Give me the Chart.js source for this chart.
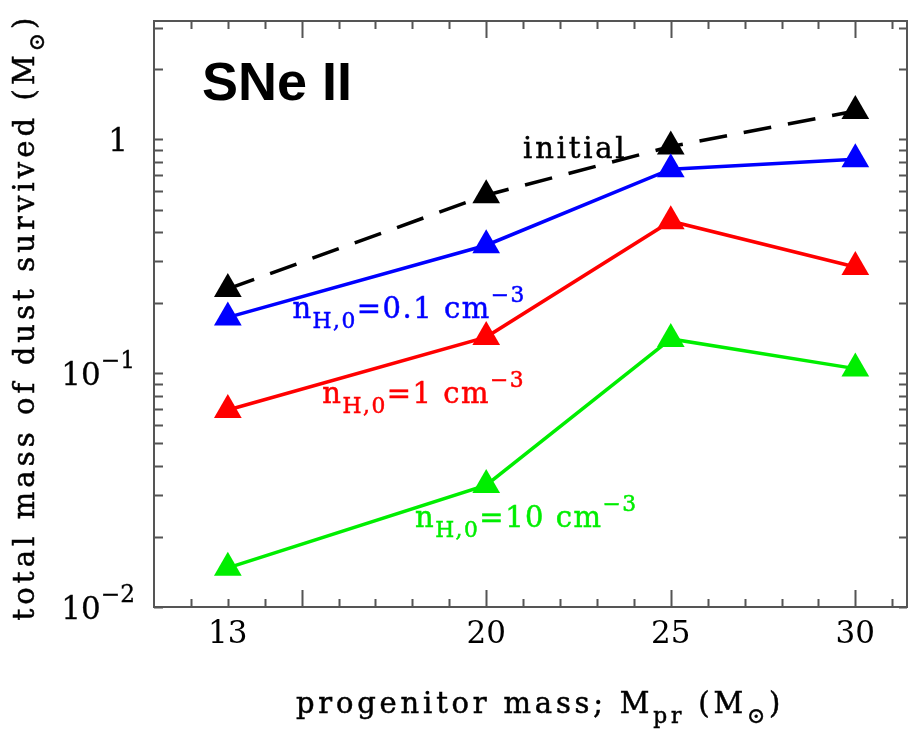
<!DOCTYPE html>
<html>
<head>
<meta charset="utf-8">
<script src="https://cdn.jsdelivr.net/npm/chart.js@4.4.1/dist/chart.umd.min.js"></script>
<style>
html,body{margin:0;padding:0;background:#fff}
#wrap{width:923px;height:742px}
</style>
</head>
<body>
<div id="wrap"><canvas id="c"></canvas></div>
<script>
// progenitor masses (Msun)
const masses = [13, 20, 25, 30];
// total dust mass (Msun)
const initialDust = [0.229, 0.576, 0.93, 1.32];
const dustN01 = [0.173, 0.352, 0.744, 0.82];
const dustN1 = [0.0695, 0.1425, 0.446, 0.284];
const dustN10 = [0.0147, 0.0332, 0.140, 0.1045];
const xTickLabels = [13, 20, 25, 30];
const yTickLabels = [
  {v:1, base:'1', exp:''},
  {v:0.1, base:'10', exp:'−1'},
  {v:0.01, base:'10', exp:'−2'}
];

const SERIF = '"DejaVu Serif"';
const pts = arr => masses.map((m,i)=>({x:m, y:arr[i]}));

// draws text with sub/superscripts, baseline at y
function rich(ctx, x, y, parts, F, color, align, spacing, stroke){
  ctx.save();
  ctx.fillStyle = color;
  ctx.strokeStyle = color;
  ctx.lineWidth = stroke || 0;
  ctx.textBaseline = 'alphabetic';
  ctx.textAlign = 'left';
  ctx.letterSpacing = (spacing||0)+'px';
  const seg = parts.map(p=>{
    const f = p.s ? F*0.75 : F;
    ctx.font = f+'px '+SERIF;
    return {t:p.t, s:p.s, f, w:ctx.measureText(p.t).width};
  });
  const total = seg.reduce((s,p)=>s+p.w,0);
  let cx = align==='right' ? x-total : align==='center' ? x-total/2 : x;
  seg.forEach(p=>{
    ctx.font = p.f+'px '+SERIF;
    const dy = p.s==='sub' ? 0.35*F : p.s==='sup' ? -0.55*F : 0;
    ctx.fillText(p.t, cx, y+dy);
    if(stroke) ctx.strokeText(p.t, cx, y+dy);
    cx += p.w;
  });
  ctx.restore();
}

const nLabel = (val) => [{t:'n'},{t:'H,0',s:'sub'},{t:'='+val+' cm'},{t:'−3',s:'sup'}];
const notes = [
  {x:21.0, y:0.83, parts:[{t:'initial'}], color:'#000', sp:2.8},
  {x:14.75, y:0.172, parts:nLabel('0.1'), color:'#0000ff', sp:1.5},
  {x:15.56, y:0.0744, parts:nLabel('1'), color:'#ff0000', sp:1.5},
  {x:18.07, y:0.022, parts:nLabel('10'), color:'#00ee00', sp:1.5}
];

const framePlugin = {
  id:'framePlugin',
  afterDraw(chart){
    const {ctx, chartArea:a, scales:{x, y}} = chart;
    ctx.save();
    ctx.strokeStyle = '#555';
    ctx.lineWidth = 2;
    ctx.strokeRect(a.left, a.top, a.right-a.left, a.bottom-a.top);
    ctx.beginPath();
    for(let v=12; v<=31; v++){
      const px = Math.round(x.getPixelForValue(v))+0.5;
      const len = v%5===0 ? 17 : 8;
      ctx.moveTo(px, a.bottom); ctx.lineTo(px, a.bottom-len);
      ctx.moveTo(px, a.top); ctx.lineTo(px, a.top+len);
    }
    for(let d=-2; d<=0; d++){
      for(let k=1; k<=9; k++){
        const v = k*Math.pow(10,d);
        if(v>y.max) break;
        const py = Math.round(y.getPixelForValue(v))+0.5;
        ctx.moveTo(a.left, py); ctx.lineTo(a.left+9, py);
        ctx.moveTo(a.right, py); ctx.lineTo(a.right-8, py);
      }
    }
    ctx.stroke();
    ctx.restore();

    // y tick labels
    yTickLabels.forEach(t=>{
      const py = y.getPixelForValue(t.v);
      if(t.exp){
        rich(ctx, a.left-19, py+12, [{t:t.base},{t:t.exp,s:'sup'}], 31, '#000', 'right', 0, 0.3);
      } else {
        rich(ctx, a.left-26, py+12, [{t:t.base}], 31, '#000', 'right', 0, 0.3);
      }
    });

    // axis titles
    rich(ctx, 540, 713, [{t:'progenitor mass; M'},{t:'pr',s:'sub'},{t:' (M'},{t:'⊙',s:'sub'},{t:')'}], 29, '#000', 'center', 3.8, 0.5);
    ctx.save();
    ctx.translate(34, 317);
    ctx.rotate(-Math.PI/2);
    rich(ctx, 0, 0, [{t:'total mass of dust survived (M'},{t:'⊙',s:'sub'},{t:')'}], 29, '#000', 'center', 4.1, 0.5);
    ctx.restore();

    // panel label
    ctx.save();
    ctx.font = 'bold 54px "Liberation Sans"';
    ctx.fillStyle = '#000';
    ctx.textBaseline = 'alphabetic';
    ctx.fillText('SNe II', 202, 100);
    ctx.restore();

    // line labels
    notes.forEach(n=>{
      rich(ctx, x.getPixelForValue(n.x), y.getPixelForValue(n.y), n.parts, 29, n.color, 'left', n.sp, 0.5);
    });
  }
};

const lineSet = (data, color, dash) => ({
  data: pts(data),
  borderColor: color,
  backgroundColor: color,
  borderWidth: 3.5,
  borderDash: dash || [],
  pointStyle: 'triangle',
  pointRadius: 16,
  pointBorderWidth: 0,
  pointBackgroundColor: color,
  tension: 0,
  fill: false
});

new Chart(document.getElementById('c'), {
  type: 'line',
  data: {
    datasets: [
      lineSet(dustN01, '#0000ff'),
      lineSet(dustN1, '#ff0000'),
      lineSet(dustN10, '#00ee00'),
      lineSet(initialDust, '#000000', [28, 17])
    ]
  },
  options: {
    responsive: true,
    maintainAspectRatio: false,
    animation: false,
    layout: {padding: {top: 21, right: 9, left: 0, bottom: 0}},
    plugins: {legend: {display: false}, tooltip: {enabled: false}},
    scales: {
      x: {
        type: 'linear',
        min: 11,
        max: 31.4,
        grid: {display: false, drawTicks: false},
        border: {display: false},
        afterBuildTicks: s => { s.ticks = xTickLabels.map(v=>({value:v})); },
        afterFit: s => { s.height = 135; },
        ticks: {
          color: '#000',
          padding: 9,
          maxRotation: 0,
          font: {family: 'DejaVu Serif', size: 31},
          callback: v => String(v)
        }
      },
      y: {
        type: 'logarithmic',
        min: 0.01,
        max: 3.2,
        grid: {display: false, drawTicks: false},
        border: {display: false},
        ticks: {display: false},
        afterFit: s => { s.width = 154; }
      }
    }
  },
  plugins: [framePlugin]
});
</script>
</body>
</html>
